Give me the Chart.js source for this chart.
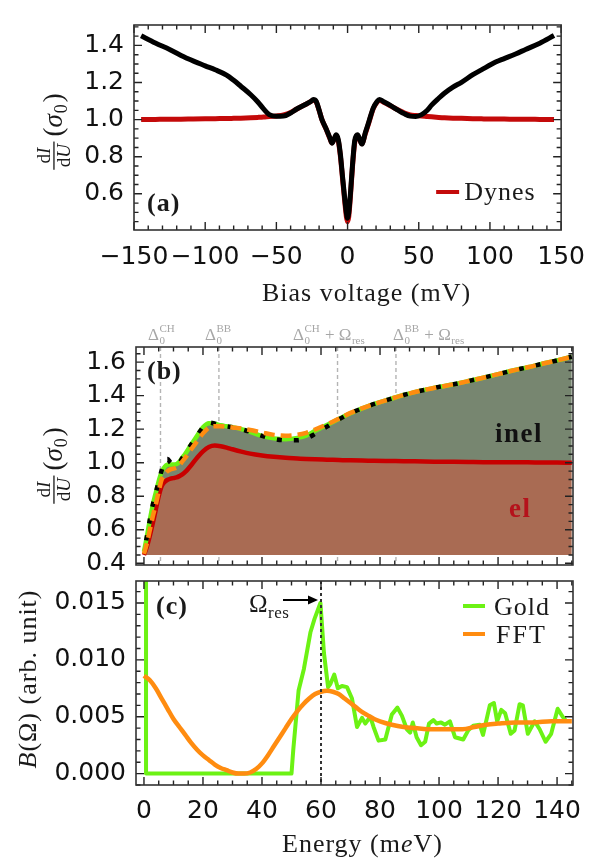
<!DOCTYPE html>
<html>
<head>
<meta charset="utf-8">
<script src="https://cdn.jsdelivr.net/npm/chart.js@4.4.0/dist/chart.umd.min.js"></script>
<style>
  html, body { margin: 0; padding: 0; background: #fff; }
  #wrap { position: relative; width: 597px; height: 858px; overflow: hidden; }
  canvas { position: absolute; left: 0; }
</style>
</head>
<body>
<div id="wrap">
  <canvas id="cA" width="597" height="310" style="top:0px"></canvas>
  <canvas id="cB" width="597" height="280" style="top:310px"></canvas>
  <canvas id="cC" width="597" height="302" style="top:556px"></canvas>
</div>
<script>
// ---- (a) dI/dU vs bias ----
const biasV = [-145, -135, -125, -112, -100, -93, -85, -80, -75, -68, -63, -59, -55, -50, -45, -40, -36, -30, -26, -24,
  -22, -20, -18, -15, -12.5, -11, -9.5, -8, -6.5, -5, -3.5, -2, -0.8, 0, 0.8, 2, 3.5, 5, 7, 8.5,
  10, 12.5, 15, 18, 20.5, 22.4, 25, 30, 36, 40, 44, 48, 52, 56, 59, 64, 68, 74, 80, 88,
  94, 104, 110, 118, 125, 135, 145];
const dIdUMeasured = [1.452, 1.413, 1.378, 1.328, 1.29, 1.269, 1.24, 1.212, 1.18, 1.134, 1.095, 1.058, 1.027, 1.018, 1.019, 1.036, 1.056, 1.08, 1.097, 1.108,
  1.098, 1.052, 1.0, 0.95, 0.903, 0.873, 0.895, 0.918, 0.892, 0.81, 0.69, 0.575, 0.495, 0.468, 0.495, 0.6, 0.76, 0.885, 0.918, 0.895,
  0.868, 0.93, 0.99, 1.062, 1.095, 1.109, 1.098, 1.077, 1.048, 1.031, 1.019, 1.017, 1.027, 1.05, 1.078, 1.115, 1.142, 1.175, 1.201, 1.242,
  1.268, 1.31, 1.329, 1.354, 1.378, 1.412, 1.453];
const dIdUDynes = [1.0, 1.001, 1.002, 1.003, 1.004, 1.005, 1.006, 1.007, 1.008, 1.01, 1.012, 1.014, 1.017, 1.02, 1.025, 1.038, 1.056, 1.08, 1.097, 1.105,
  1.095, 1.05, 1.0, 0.948, 0.9, 0.875, 0.893, 0.912, 0.885, 0.8, 0.68, 0.56, 0.475, 0.45, 0.475, 0.585, 0.75, 0.875, 0.912, 0.893,
  0.87, 0.925, 0.985, 1.058, 1.092, 1.105, 1.095, 1.075, 1.05, 1.035, 1.025, 1.022, 1.02, 1.017, 1.015, 1.012, 1.01, 1.008, 1.007, 1.005,
  1.004, 1.003, 1.003, 1.002, 1.002, 1.001, 1.0];
const ticksAx = [-150, -100, -50, 0, 50, 100, 150];
const ticksAy = [0.6, 0.8, 1.0, 1.2, 1.4];

// ---- (b) elastic / inelastic decomposition ----
const energyB = [0, 1, 2, 3, 4, 5, 6, 7, 8, 9, 10, 11, 12, 13, 14, 16, 18, 20, 22, 24,
  26, 28, 30, 33, 36, 40, 44, 48, 52, 55, 58, 62, 66, 70, 76, 82, 88, 95, 100, 105,
  110, 115, 120, 125, 130, 135, 140, 145];
const sigmaEl = [0.45, 0.5, 0.565, 0.64, 0.72, 0.8, 0.86, 0.885, 0.898, 0.905, 0.908, 0.912, 0.92, 0.93, 0.945, 0.985, 1.03, 1.068, 1.094, 1.102,
  1.098, 1.09, 1.08, 1.066, 1.054, 1.043, 1.035, 1.029, 1.025, 1.022, 1.02, 1.018, 1.016, 1.014, 1.012, 1.01, 1.009, 1.007, 1.006, 1.005,
  1.004, 1.003, 1.003, 1.002, 1.002, 1.001, 1.001, 1.0];
const sigmaGold = [0.47, 0.56, 0.66, 0.75, 0.82, 0.89, 0.945, 0.975, 0.988, 0.99, 0.99, 0.992, 1.005, 1.03, 1.053, 1.108, 1.16, 1.212, 1.236, 1.233,
  1.223, 1.217, 1.212, 1.2, 1.184, 1.16, 1.145, 1.14, 1.148, 1.162, 1.19, 1.225, 1.26, 1.295, 1.338, 1.372, 1.404, 1.434, 1.452, 1.468,
  1.487, 1.507, 1.528, 1.55, 1.569, 1.59, 1.61, 1.632];
const sigmaMeasured = [0.47, 0.56, 0.66, 0.75, 0.82, 0.89, 0.955, 1.01, 1.022, 1.0, 0.99, 0.985, 1.0, 1.028, 1.053, 1.108, 1.16, 1.212, 1.24, 1.233,
  1.223, 1.217, 1.212, 1.2, 1.184, 1.16, 1.142, 1.134, 1.134, 1.145, 1.172, 1.215, 1.258, 1.295, 1.338, 1.372, 1.404, 1.434, 1.452, 1.468,
  1.487, 1.507, 1.528, 1.55, 1.569, 1.59, 1.61, 1.632];
const sigmaFFT = [0.456, 0.52, 0.6, 0.68, 0.75, 0.83, 0.9, 0.93, 0.95, 0.96, 0.965, 0.97, 0.985, 1.008, 1.03, 1.08, 1.128, 1.175, 1.21, 1.218,
  1.217, 1.214, 1.21, 1.204, 1.195, 1.18, 1.166, 1.161, 1.166, 1.178, 1.198, 1.228, 1.262, 1.297, 1.338, 1.372, 1.404, 1.434, 1.452, 1.468,
  1.487, 1.507, 1.528, 1.55, 1.569, 1.59, 1.61, 1.632];
const elBaseline = 0.45;
const ticksBy = [0.4, 0.6, 0.8, 1.0, 1.2, 1.4, 1.6];

// ---- (c) boson spectrum B(Omega) ----
const energyGold = [0.7, 0.7, 50, 50.6, 52.4, 54.2, 56.4, 57.8, 59.8, 61, 62.4, 63.2, 64.5, 65.7, 67.1, 68.8, 70.5, 72.2, 73.9, 75,
  76.7, 77.8, 79.5, 81.8, 84, 85.9, 87.4, 89.1, 90.2, 91.1, 92.4, 93.9, 95.3, 96.6, 98.1, 99.2, 100.7, 102, 103.7, 105.4,
  108.2, 109.9, 111.6, 113.8, 114.9, 117.2, 118.6, 119.7, 121.1, 122.4, 124.3, 125.6, 127.3, 128.4, 130.1, 132.4, 134.1, 136.1, 138, 140.2,
  141.9, 143.2];
const bGold = [0.03, 0, 0, 0.0021, 0.0073, 0.0092, 0.0124, 0.0136, 0.0150, 0.0106, 0.0076, 0.0079, 0.0087, 0.0075, 0.0077, 0.0076, 0.0066, 0.0041, 0.0049, 0.0044,
  0.0050, 0.0041, 0.0029, 0.0030, 0.0052, 0.0058, 0.0051, 0.0039, 0.0036, 0.0045, 0.0032, 0.0025, 0.0028, 0.0044, 0.0047, 0.0044, 0.0045, 0.0043, 0.0046, 0.0032,
  0.0030, 0.0038, 0.0042, 0.0043, 0.0034, 0.0060, 0.0062, 0.0046, 0.0056, 0.0053, 0.0035, 0.0038, 0.0061, 0.0060, 0.0035, 0.0046, 0.0039, 0.0028, 0.0035, 0.0057,
  0.0050, 0.0046];
const energyFFT = [0, 2, 4, 6, 8, 10, 12, 14, 16, 18, 20, 22, 24, 26, 28, 30, 32, 34, 36, 38,
  40, 42, 44, 46, 48, 50, 52, 54, 56, 58, 60, 62, 64, 66, 68, 70, 72, 74, 76, 78,
  80, 84, 88, 92, 96, 100, 104, 108, 112, 116, 120, 126, 132, 138, 145];
const bFFT = [0.0086, 0.0082, 0.0075, 0.0066, 0.0057, 0.0048, 0.0041, 0.0034, 0.0027, 0.0021, 0.0016, 0.0012, 0.0008, 0.0005, 0.0003, 0.0001, 0.0, 0.0, 0.0001, 0.0004,
  0.0009, 0.0016, 0.0024, 0.0032, 0.0040, 0.0048, 0.0055, 0.0061, 0.0066, 0.0070, 0.0072, 0.00728, 0.0072, 0.0070, 0.0066, 0.0062, 0.0058, 0.0054, 0.0051, 0.0048,
  0.0046, 0.0043, 0.0041, 0.0040, 0.0039, 0.0039, 0.0039, 0.0039, 0.0041, 0.0043, 0.0044, 0.0045, 0.0045, 0.0046, 0.0046];
const ticksCx = [0, 20, 40, 60, 80, 100, 120, 140];
const ticksCy = [0, 0.005, 0.010, 0.015];

// gap energies and resonance (meV)
const deltaCH = 5.6, deltaBB = 25.4, omegaRes = 60;
const refLabelE = [1.4, 20.7, 50.5, 84.4];

const SERIF = '"Liberation Serif", "DejaVu Serif", serif';
const TICK_FONT = { family: '"DejaVu Sans", sans-serif', size: 25 };
const C_RED = '#c40a0a', C_GREEN = '#6cf214', C_ORANGE = '#ff8c10';
const C_EL = '#a96b53', C_INEL = '#778670';

function pts(xs, ys) { return xs.map((x, i) => ({ x: x, y: ys[i] })); }
function fixTicks(list) { return s => { s.ticks = list.map(v => ({ value: v })); }; }
function minus(v) { return v < 0 ? '\u2212' + Math.abs(v) : String(v); }

function eachTick(min, max, minor, major, fn) {
  const r = Math.round(major / minor);
  for (let i = Math.ceil(min / minor - 1e-6); i <= Math.floor(max / minor + 1e-6); i++) fn(i * minor, i % r === 0);
}

// Mathematica-like frame: inward ticks on all four sides
function framePlugin(tx, ty) {
  return {
    id: 'frame',
    afterDraw(chart) {
      const ctx = chart.ctx, a = chart.chartArea, x = chart.scales.x, y = chart.scales.y;
      ctx.save();
      ctx.strokeStyle = '#222';
      ctx.lineWidth = 1.4;
      ctx.beginPath();
      eachTick(x.min, x.max, tx[0], tx[1], (v, M) => {
        const p = x.getPixelForValue(v), l = M ? 8 : 4.5;
        ctx.moveTo(p, a.bottom); ctx.lineTo(p, a.bottom - l);
        ctx.moveTo(p, a.top); ctx.lineTo(p, a.top + l);
      });
      eachTick(y.min, y.max, ty[0], ty[1], (v, M) => {
        const p = y.getPixelForValue(v), l = M ? 8 : 4.5;
        ctx.moveTo(a.left, p); ctx.lineTo(a.left + l, p);
        ctx.moveTo(a.right, p); ctx.lineTo(a.right - l, p);
      });
      ctx.stroke();
      ctx.strokeStyle = '#333';
      ctx.lineWidth = 1.6;
      ctx.strokeRect(a.left, a.top, a.right - a.left, a.bottom - a.top);
      ctx.restore();
    }
  };
}

function put(ctx, s, x, y, font, color, ls) {
  ctx.font = font;
  ctx.fillStyle = color || '#1a1a1a';
  ctx.letterSpacing = (ls || 0) + 'px';
  ctx.textAlign = 'left';
  ctx.textBaseline = 'alphabetic';
  ctx.fillText(s, x, y);
  const w = ctx.measureText(s).width;
  ctx.letterSpacing = '0px';
  return x + w;
}

// rotated  dI/dU (sigma_0)
function dIdUTitle(ctx, cx, cy) {
  ctx.save();
  ctx.translate(cx, cy);
  ctx.rotate(-Math.PI / 2);
  const F = 19, P = 27;
  ctx.font = F + 'px ' + SERIF; const wd = ctx.measureText('d').width;
  ctx.font = 'italic ' + F + 'px ' + SERIF; const wI = ctx.measureText('I').width, wU = ctx.measureText('U').width;
  const fw = wd + Math.max(wI, wU) + 5;
  ctx.font = P + 'px ' + SERIF; const wp = ctx.measureText('(').width;
  ctx.font = 'italic ' + P + 'px ' + SERIF; const ws = ctx.measureText('\u03c3').width;
  ctx.font = '18px ' + SERIF; const w0 = ctx.measureText('0').width;
  const W = fw + 5 + wp + ws + w0 + wp + 4;
  const x0 = -W / 2;
  let p = x0 + (fw - wd - wI) / 2;
  p = put(ctx, 'd', p, -4, F + 'px ' + SERIF);
  put(ctx, 'I', p, -4, 'italic ' + F + 'px ' + SERIF);
  ctx.fillStyle = '#1a1a1a';
  ctx.fillRect(x0, -0.7, fw, 1.3);
  p = x0 + (fw - wd - wU) / 2;
  p = put(ctx, 'd', p, 16, F + 'px ' + SERIF);
  put(ctx, 'U', p, 16, 'italic ' + F + 'px ' + SERIF);
  p = x0 + fw + 5;
  p = put(ctx, '(', p, 8, P + 'px ' + SERIF);
  p = put(ctx, '\u03c3', p, 8, 'italic ' + P + 'px ' + SERIF);
  p = put(ctx, '0', p + 1, 13, '18px ' + SERIF);
  put(ctx, ')', p + 2, 8, P + 'px ' + SERIF);
  ctx.restore();
}

function baseOptions(pad) {
  return {
    responsive: false,
    animation: false,
    layout: { padding: pad },
    plugins: { legend: { display: false }, tooltip: { enabled: false }, filler: { drawTime: 'beforeDatasetsDraw' } },
    elements: { point: { radius: 0 }, line: { borderJoinStyle: 'round' } }
  };
}

function yScale(min, max, list, width, fmt) {
  return {
    type: 'linear', min: min, max: max,
    grid: { display: false, drawTicks: false }, border: { display: false },
    afterBuildTicks: fixTicks(list),
    afterFit: s => { s.width = width; },
    ticks: { padding: 10, font: TICK_FONT, color: '#111', callback: fmt }
  };
}

// ---------------- panel (a) ----------------
const optsA = baseOptions({ left: 0, right: 24, top: 12, bottom: 0 });
optsA.scales = {
  x: {
    type: 'linear', min: -150, max: 150,
    grid: { display: false, drawTicks: false }, border: { display: false },
    afterBuildTicks: fixTicks(ticksAx),
    afterFit: s => { s.height = 80; },
    ticks: { padding: 12, maxRotation: 0, autoSkip: false, font: TICK_FONT, color: '#111', callback: v => minus(v) }
  },
  y: yScale(0.405, 1.51, ticksAy, 134, v => v.toFixed(1))
};
new Chart(document.getElementById('cA'), {
  type: 'line',
  data: {
    datasets: [
      { label: 'measured', data: pts(biasV, dIdUMeasured), borderColor: '#000', borderWidth: 5, cubicInterpolationMode: 'monotone' },
      { label: 'Dynes', data: pts(biasV, dIdUDynes), borderColor: C_RED, borderWidth: 5, cubicInterpolationMode: 'monotone' }
    ]
  },
  options: optsA,
  plugins: [framePlugin([10, 50], [0.05, 0.2]), {
    id: 'textA',
    afterDraw(chart) {
      const ctx = chart.ctx, a = chart.chartArea;
      ctx.save();
      put(ctx, '(a)', a.left + 13, a.bottom - 19, 'bold 26px ' + SERIF, '#1a1a1a', 1);
      ctx.strokeStyle = C_RED; ctx.lineWidth = 4;
      ctx.beginPath(); ctx.moveTo(a.right - 125, a.bottom - 38); ctx.lineTo(a.right - 102, a.bottom - 38); ctx.stroke();
      put(ctx, 'Dynes', a.right - 97, a.bottom - 30, '26px ' + SERIF, '#1a1a1a', 1);
      put(ctx, 'Bias voltage (mV)', 262, 301, '26px ' + SERIF, '#1a1a1a', 1);
      dIdUTitle(ctx, 54, 131);
      ctx.restore();
    }
  }]
});

// ---------------- panel (b) ----------------
const optsB = baseOptions({ left: 0, right: 24, top: 37, bottom: 24 });
optsB.scales = {
  x: { type: 'linear', min: -2.7, max: 145.4, display: false },
  y: yScale(0.39, 1.69, ticksBy, 136, v => v.toFixed(1))
};
new Chart(document.getElementById('cB'), {
  type: 'line',
  data: {
    datasets: [
      { label: 'el', data: pts(energyB, sigmaEl), borderColor: '#c80000', borderWidth: 4.5, backgroundColor: C_EL,
        fill: { value: elBaseline }, cubicInterpolationMode: 'monotone', order: 4 },
      { label: 'Gold', data: pts(energyB, sigmaGold), borderColor: C_GREEN, borderWidth: 4.5, backgroundColor: C_INEL,
        fill: 0, cubicInterpolationMode: 'monotone', order: 3 },
      { label: 'measured', data: pts(energyB, sigmaMeasured), borderColor: '#000', borderWidth: 4.5,
        borderDash: [5, 12], borderDashOffset: -11.5, fill: false, cubicInterpolationMode: 'monotone', order: 2 },
      { label: 'FFT', data: pts(energyB, sigmaFFT), borderColor: C_ORANGE, borderWidth: 4.5,
        borderDash: [11, 6], fill: false, cubicInterpolationMode: 'monotone', order: 1 }
    ]
  },
  options: optsB,
  plugins: [{
    id: 'refLines',
    beforeDraw(chart) {
      const ctx = chart.ctx, a = chart.chartArea, x = chart.scales.x;
      const refE = [deltaCH, deltaBB, deltaCH + omegaRes, deltaBB + omegaRes];
      ctx.save();
      ctx.strokeStyle = '#b4b4b4'; ctx.lineWidth = 1.4; ctx.setLineDash([4, 3]);
      refE.forEach(e => {
        const p = x.getPixelForValue(e);
        ctx.beginPath(); ctx.moveTo(p, a.top); ctx.lineTo(p, a.bottom); ctx.stroke();
      });
      ctx.restore();
    }
  }, framePlugin([5, 20], [0.05, 0.2]), {
    id: 'textB',
    afterDraw(chart) {
      const ctx = chart.ctx, a = chart.chartArea, x = chart.scales.x;
      const grey = '#a6a6a6', yb = a.top - 7;
      ctx.save();
      const sups = ['CH', 'BB', 'CH', 'BB'];
      refLabelE.forEach((e, i) => {
        let p = put(ctx, '\u0394', x.getPixelForValue(e), yb, '17px ' + SERIF, grey);
        const p1 = put(ctx, sups[i], p + 0.5, yb - 8, '11px ' + SERIF, grey);
        const p2 = put(ctx, '0', p + 0.5, yb + 4, '11px ' + SERIF, grey);
        p = Math.max(p1, p2);
        if (i >= 2) {
          p = put(ctx, ' + \u03a9', p + 1, yb, '17px ' + SERIF, grey);
          put(ctx, 'res', p + 0.5, yb + 4, '11px ' + SERIF, grey);
        }
      });
      put(ctx, '(b)', a.left + 11, a.top + 32, 'bold 26px ' + SERIF, '#1a1a1a', 1);
      put(ctx, 'inel', a.right - 78, a.top + 95, 'bold 27px ' + SERIF, '#111', 1.5);
      put(ctx, 'el', a.right - 64, a.top + 170, 'bold 27px ' + SERIF, '#b5121b', 1.5);
      dIdUTitle(ctx, 54, 465 - 310);
      ctx.restore();
    }
  }]
});

// ---------------- panel (c) ----------------
const optsC = baseOptions({ left: 0, right: 24, top: 10, bottom: 0 });
optsC.scales = {
  x: {
    type: 'linear', min: -2.7, max: 145.4,
    grid: { display: false, drawTicks: false }, border: { display: false },
    afterBuildTicks: fixTicks(ticksCx),
    afterFit: s => { s.height = 73; },
    ticks: { padding: 11, maxRotation: 0, autoSkip: false, font: TICK_FONT, color: '#111', callback: v => String(v) }
  },
  y: yScale(-0.001, 0.01693, ticksCy, 136, v => v.toFixed(3))
};
new Chart(document.getElementById('cC'), {
  type: 'line',
  data: {
    datasets: [
      { label: 'FFT', data: pts(energyFFT, bFFT), borderColor: C_ORANGE, borderWidth: 4.5, cubicInterpolationMode: 'monotone' },
      { label: 'Gold', data: pts(energyGold, bGold), borderColor: C_GREEN, borderWidth: 4, tension: 0 }
    ]
  },
  options: optsC,
  plugins: [{
    id: 'resLine',
    afterDatasetsDraw(chart) {
      const ctx = chart.ctx, a = chart.chartArea, x = chart.scales.x;
      const p = x.getPixelForValue(omegaRes);
      ctx.save();
      ctx.strokeStyle = '#333'; ctx.lineWidth = 2; ctx.setLineDash([3, 3]);
      ctx.beginPath(); ctx.moveTo(p, a.top); ctx.lineTo(p, a.bottom); ctx.stroke();
      ctx.restore();
    }
  }, framePlugin([5, 20], [0.001, 0.005]), {
    id: 'textC',
    afterDraw(chart) {
      const ctx = chart.ctx, a = chart.chartArea, x = chart.scales.x;
      const lp = x.getPixelForValue(omegaRes);
      ctx.save();
      put(ctx, '(c)', a.left + 20, a.top + 33, 'bold 26px ' + SERIF, '#1a1a1a', 1);
      // Omega_res arrow
      let p = put(ctx, '\u03a9', lp - 72, a.top + 31, '25px ' + SERIF);
      put(ctx, 'res', p + 0.5, a.top + 37, '17px ' + SERIF, '#1a1a1a', 0.5);
      const ay = a.top + 19;
      ctx.strokeStyle = '#000'; ctx.fillStyle = '#000'; ctx.lineWidth = 2;
      ctx.beginPath(); ctx.moveTo(lp - 38, ay); ctx.lineTo(lp - 10, ay); ctx.stroke();
      ctx.beginPath(); ctx.moveTo(lp - 3, ay); ctx.lineTo(lp - 13, ay - 4.5); ctx.lineTo(lp - 13, ay + 4.5); ctx.closePath(); ctx.fill();
      // legend
      ctx.lineWidth = 4;
      ctx.strokeStyle = C_GREEN;
      ctx.beginPath(); ctx.moveTo(a.right - 110, a.top + 25); ctx.lineTo(a.right - 88, a.top + 25); ctx.stroke();
      put(ctx, 'Gold', a.right - 79, a.top + 34, '26px ' + SERIF, '#1a1a1a', 1);
      ctx.strokeStyle = C_ORANGE;
      ctx.beginPath(); ctx.moveTo(a.right - 110, a.top + 53); ctx.lineTo(a.right - 88, a.top + 53); ctx.stroke();
      put(ctx, 'FFT', a.right - 77, a.top + 62, '26px ' + SERIF, '#1a1a1a', 2);
      // x title
      p = put(ctx, 'Energy (m', 282, 296, '26px ' + SERIF, '#1a1a1a', 1);
      p = put(ctx, 'e', p, 296, 'italic 26px ' + SERIF, '#1a1a1a', 1);
      put(ctx, 'V)', p, 296, '26px ' + SERIF, '#1a1a1a', 1);
      // y title B(Omega) (arb. unit)
      ctx.save();
      ctx.translate(28, 679 - 556);
      ctx.rotate(-Math.PI / 2);
      ctx.font = 'italic 26px ' + SERIF; ctx.letterSpacing = '1px';
      const wB = ctx.measureText('B').width;
      ctx.font = '26px ' + SERIF;
      const wR = ctx.measureText('(\u03a9) (arb. unit)').width;
      ctx.letterSpacing = '0px';
      const x0 = -(wB + wR) / 2;
      p = put(ctx, 'B', x0, 8, 'italic 26px ' + SERIF, '#1a1a1a', 1);
      put(ctx, '(\u03a9) (arb. unit)', p, 8, '26px ' + SERIF, '#1a1a1a', 1);
      ctx.restore();
      ctx.restore();
    }
  }]
});
</script>
</body>
</html>
